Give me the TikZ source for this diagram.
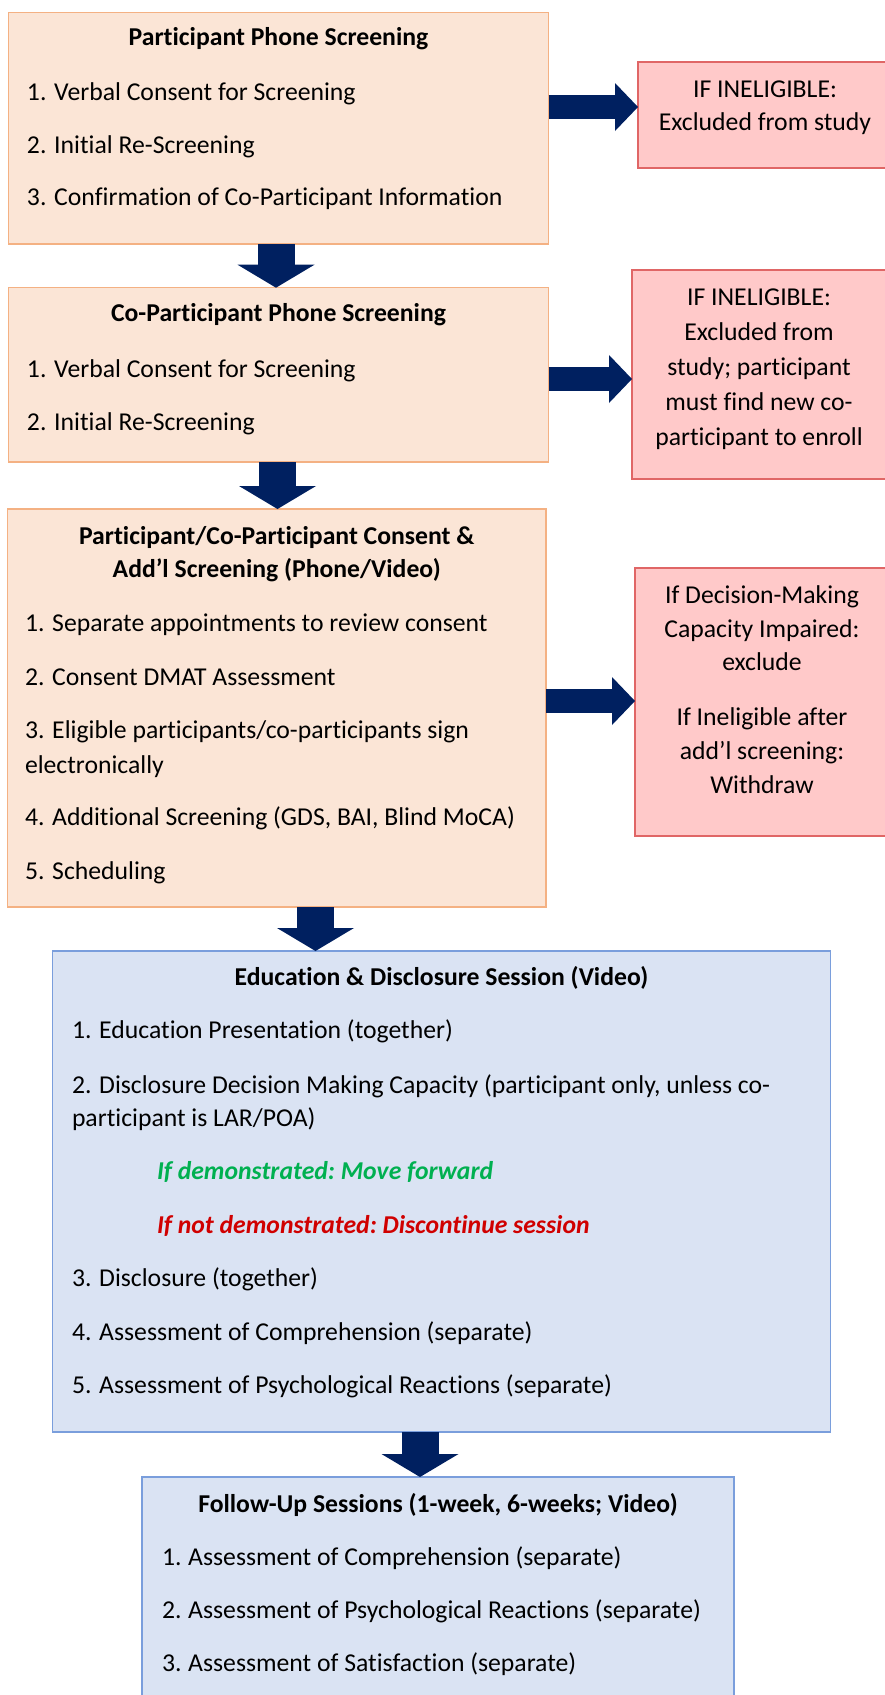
\documentclass[tikz,border=0pt]{standalone}
\usepackage{fontspec}
\setmainfont{Carlito}[Ligatures=NoCommon]
\usetikzlibrary{arrows.meta}
\definecolor{navy}{HTML}{002060}
\definecolor{ofill}{HTML}{FBE5D6}
\definecolor{oline}{HTML}{F4B183}
\definecolor{rfill}{HTML}{FFC9C9}
\definecolor{rline}{HTML}{E06666}
\definecolor{bfill}{HTML}{DAE3F3}
\definecolor{bline}{HTML}{7A9EDC}
\definecolor{gtext}{HTML}{00B050}
\definecolor{rtext}{HTML}{D00000}
\begin{document}
\begin{tikzpicture}[x=1pt,y=-1pt,
  box/.style={draw, line width=1.5pt, anchor=north west, inner sep=0pt, outer sep=0pt},
  obox/.style={box, draw=oline, fill=ofill},
  rbox/.style={box, draw=rline, fill=rfill},
  bbox/.style={box, draw=bline, fill=bfill},
  txt/.style={inner sep=0pt, outer sep=0pt, font=\fontsize{25.7}{33}\selectfont, anchor=base west},
  ttl/.style={txt, anchor=base, font=\fontsize{25.7}{33}\selectfont\bfseries},
  ctr/.style={txt, anchor=base},
  harrow/.style={draw=navy, line width=24pt, -{Triangle[width=48pt, length=23pt, line width=0pt, fill=navy]}},
  varrow/.style={draw=navy, line width=37pt, -{Triangle[width=77pt, length=23pt, line width=0pt, fill=navy]}},
]
\fill[white] (0,0) rectangle (885,1695);
\useasboundingbox (0,0) rectangle (885,1695);

% boxes
\node[obox, minimum width=540pt, minimum height=231.3pt] (b1) at (8.5,12.7) {};
\node[rbox, minimum width=254pt, minimum height=106pt] (r1) at (638,62) {};
\node[obox, minimum width=540pt, minimum height=174.3pt] (b2) at (8.5,287.7) {};
\node[rbox, minimum width=254pt, minimum height=209pt] (r2) at (632,270) {};
\node[obox, minimum width=538.5pt, minimum height=398pt] (b3) at (7.5,509) {};
\node[rbox, minimum width=254pt, minimum height=268pt] (r3) at (635,568) {};
\node[bbox, minimum width=778pt, minimum height=481pt] (b4) at (52.5,951) {};
\node[bbox, minimum width=592pt, minimum height=260pt] (b5) at (142,1477) {};

% box 1
\node[ttl] (b1t) at (b1.center |- 0,45) {Participant Phone Screening};
\node[txt] (b1a) at (27,100) {1. Verbal Consent for Screening};
\node[txt] (b1b) at (27,153) {2. Initial Re-Screening};
\node[txt] (b1c) at (27,205) {3. Confirmation of Co-Participant Information};
\node[ctr] (r1a) at (r1.center |- 0,97) {IF INELIGIBLE:};
\node[ctr] (r1b) at (r1.center |- 0,130) {Excluded from study};

% box 2
\node[ttl] (b2t) at (b2.center |- 0,321) {Co-Participant Phone Screening};
\node[txt] (b2a) at (27,377) {1. Verbal Consent for Screening};
\node[txt] (b2b) at (27,430) {2. Initial Re-Screening};
\node[ctr] (r2a) at (r2.center |- 0,305) {IF INELIGIBLE:};
\node[ctr] (r2b) at (r2.center |- 0,340) {Excluded from};
\node[ctr] (r2c) at (r2.center |- 0,375) {study; participant};
\node[ctr] (r2d) at (r2.center |- 0,410) {must find new co-};
\node[ctr] (r2e) at (r2.center |- 0,445) {participant to enroll};

% box 3
\node[ttl] (b3t) at (b3.center |- 0,544) {Participant/Co-Participant Consent \&};
\node[ttl] (b3u) at (b3.center |- 0,577) {Add’l Screening (Phone/Video)};
\node[txt] (b3a) at (25,631) {1. Separate appointments to review consent};
\node[txt] (b3b) at (25,685) {2. Consent DMAT Assessment};
\node[txt] (b3c) at (25,738) {3. Eligible participants/co-participants sign};
\node[txt] (b3d) at (25,773) {electronically};
\node[txt] (b3e) at (25,825) {4. Additional Screening (GDS, BAI, Blind MoCA)};
\node[txt] (b3f) at (25,879) {5. Scheduling};
\node[ctr] (r3a) at (r3.center |- 0,603) {If Decision-Making};
\node[ctr] (r3b) at (r3.center |- 0,637) {Capacity Impaired:};
\node[ctr] (r3c) at (r3.center |- 0,670) {exclude};
\node[ctr] (r3d) at (r3.center |- 0,725) {If Ineligible after};
\node[ctr] (r3e) at (r3.center |- 0,759) {add’l screening:};
\node[ctr] (r3f) at (r3.center |- 0,793) {Withdraw};

% box 4
\node[ttl] (b4t) at (b4.center |- 0,985) {Education \& Disclosure Session (Video)};
\node[txt] (b4a) at (72,1038) {1. Education Presentation (together)};
\node[txt] (b4b) at (72,1093) {2. Disclosure Decision Making Capacity (participant only, unless co-};
\node[txt] (b4c) at (72,1126) {participant is LAR/POA)};
\node[txt, text=gtext, font=\fontsize{25.7}{33}\selectfont\bfseries\itshape] (b4d) at (157,1179) {If demonstrated:\kern-2pt{} Move forward};
\node[txt, text=rtext, font=\fontsize{25.7}{33}\selectfont\bfseries\itshape] (b4e) at (157,1233) {If not demonstrated:\kern-2pt{} Discontinue session};
\node[txt] (b4f) at (72,1286) {3. Disclosure (together)};
\node[txt] (b4g) at (72,1340) {4. Assessment of Comprehension (separate)};
\node[txt] (b4h) at (72,1393) {5. Assessment of Psychological Reactions (separate)};

% box 5
\node[ttl] (b5t) at (b5.center |- 0,1512) {Follow-Up Sessions (1-week, 6-weeks; Video)};
\node[txt] (b5a) at (162,1565) {1.\kern-1pt{} Assessment of Comprehension (separate)};
\node[txt] (b5b) at (162,1618) {2.\kern-1pt{} Assessment of Psychological Reactions (separate)};
\node[txt] (b5c) at (162,1671) {3.\kern-1pt{} Assessment of Satisfaction (separate)};

% arrows
\draw[harrow] (b1.east |- 0,107) -- (r1.west |- 0,107);
\draw[harrow] (b2.east |- 0,379) -- (r2.west |- 0,379);
\draw[harrow] (b3.east |- 0,701) -- (r3.west |- 0,701);
\draw[varrow] ([xshift=-2.5pt]b1.south) -- ([xshift=-2.5pt]b1.south |- b2.north);
\draw[varrow] ([xshift=-1pt]b2.south) -- ([xshift=-1pt]b2.south |- b3.north);
\draw[varrow] ([xshift=38.75pt]b3.south) -- ([xshift=38.75pt]b3.south |- b4.north);
\draw[varrow] ([xshift=-21.5pt]b4.south) -- ([xshift=-21.5pt]b4.south |- b5.north);
\end{tikzpicture}
\end{document}
